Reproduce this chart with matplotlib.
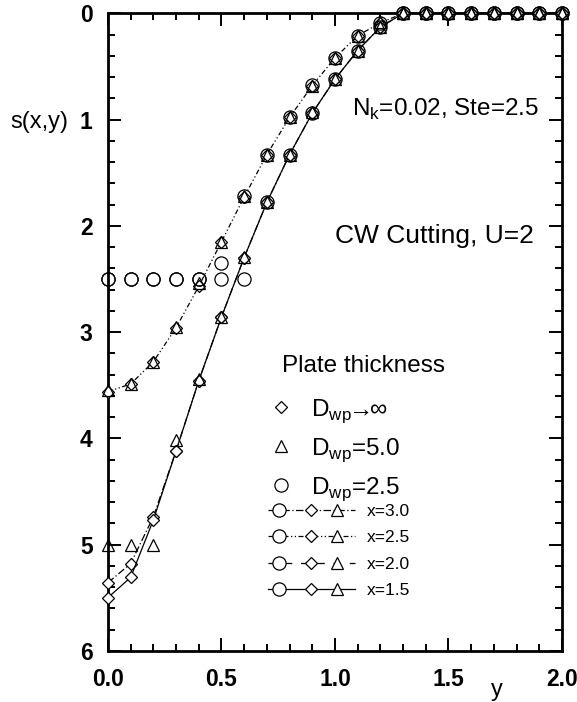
import matplotlib
matplotlib.use("Agg")
import matplotlib.pyplot as plt
from matplotlib.lines import Line2D
from matplotlib.legend_handler import HandlerBase
from matplotlib.ticker import MultipleLocator, FormatStrFormatter

plt.rcParams['font.family'] = ['Liberation Sans', 'DejaVu Sans']
plt.rcParams['mathtext.fontset'] = 'custom'
plt.rcParams['mathtext.rm'] = 'Liberation Sans'

# Data: cut depth s along y at several x, for three plate thicknesses
y_pos = [0.0, 0.1, 0.2, 0.3, 0.4, 0.5, 0.6, 0.7, 0.8, 0.9, 1.0,
         1.1, 1.2, 1.3, 1.4, 1.5, 1.6, 1.7, 1.8, 1.9, 2.0]

# D_wp -> infinity (diamonds, with lines)
s_inf_x15 = [5.50, 5.31, 4.77, 4.12, 3.46, 2.86, 2.30, 1.78, 1.33, 0.94, 0.62,
             0.35, 0.13, 0.0, 0.0, 0.0, 0.0, 0.0, 0.0, 0.0, 0.0]
s_inf_x30 = [5.36, 5.18, 4.74, 4.12, 3.46, 2.86, 2.30, 1.78, 1.33, 0.94, 0.62,
             0.35, 0.13, 0.0, 0.0, 0.0, 0.0, 0.0, 0.0, 0.0, 0.0]
s_inf_x25 = [3.56, 3.49, 3.28, 2.96, 2.57, 2.15, 1.73, 1.33, 0.98, 0.68, 0.42,
             0.21, 0.09, 0.0, 0.0, 0.0, 0.0, 0.0, 0.0, 0.0, 0.0]

# D_wp = 5.0 (triangles)
s_5_x15 = [5.0, 5.0, 5.0, 4.02, 3.44, 2.86, 2.29, 1.78, 1.33, 0.93, 0.62,
           0.35, 0.13, 0.0, 0.0, 0.0, 0.0, 0.0, 0.0, 0.0, 0.0]
s_5_x25 = [3.55, 3.49, 3.28, 2.95, 2.54, 2.15, 1.72, 1.33, 0.98, 0.68, 0.42,
           0.21, 0.08, 0.0, 0.0, 0.0, 0.0, 0.0, 0.0, 0.0, 0.0]

# D_wp = 2.5 (circles)
s_25_x15 = [2.5, 2.5, 2.5, 2.5, 2.5, 2.5, 2.5, 1.78, 1.33, 0.94, 0.62,
            0.35, 0.13, 0.0, 0.0, 0.0, 0.0, 0.0, 0.0, 0.0, 0.0]
s_25_x25 = [2.5, 2.5, 2.5, 2.5, 2.5, 2.35, 1.72, 1.33, 0.98, 0.67, 0.42,
            0.21, 0.09, 0.0, 0.0, 0.0, 0.0, 0.0, 0.0, 0.0, 0.0]

x_labels = ['x=3.0', 'x=2.5', 'x=2.0', 'x=1.5']
x_styles = [(0, (6, 2, 1, 2)), (0, (4, 2, 1, 2, 1, 2)), (0, (6, 7)), '-']

LW = 0.9
diamond = dict(marker='D', ms=6, mfc='white', mec='black', mew=LW)
triangle = dict(marker='^', ms=8, mfc='none', mec='black', mew=LW, ls='none')
circle = dict(marker='o', ms=9.5, mfc='none', mec='black', mew=LW, ls='none')


class TripleMarkerHandler(HandlerBase):
    # legend handle: line with circle, diamond and triangle on it
    def create_artists(self, legend, orig_handle, xdescent, ydescent,
                       width, height, fontsize, trans):
        yc = height / 2 - ydescent
        x0 = -xdescent
        line = Line2D([x0, x0 + width], [yc, yc])
        line.update_from(orig_handle)
        line.set_marker('None')
        line.set_transform(trans)
        arts = [line]
        for frac, style in [(0.13, circle), (0.5, diamond), (0.8, triangle)]:
            st = dict(style)
            st['mfc'] = 'white'
            st['ls'] = 'none'
            m = Line2D([x0 + frac * width], [yc], **st)
            m.set_transform(trans)
            arts.append(m)
        return arts


fig = plt.figure(figsize=(5.77, 7.02), dpi=100)
ax = fig.add_axes([0.187, 0.073, 0.787, 0.908])

ax.plot(y_pos, s_inf_x30, color='black', lw=LW, ls=x_styles[0], clip_on=False, zorder=3, **diamond)
ax.plot(y_pos, s_inf_x25, color='black', lw=LW, ls=x_styles[1], clip_on=False, zorder=3, **diamond)
ax.plot(y_pos, s_inf_x15, color='black', lw=LW, ls=x_styles[3], clip_on=False, zorder=3, **diamond)
ax.plot(y_pos, s_5_x15, clip_on=False, zorder=4, **triangle)
ax.plot(y_pos, s_5_x25, clip_on=False, zorder=4, **triangle)
ax.plot(y_pos, s_25_x15, clip_on=False, zorder=5, **circle)
ax.plot(y_pos, s_25_x25, clip_on=False, zorder=5, **circle)

ax.set_xlim(0, 2)
ax.set_ylim(6, 0)
ax.xaxis.set_major_locator(MultipleLocator(0.5))
ax.xaxis.set_minor_locator(MultipleLocator(0.1))
ax.yaxis.set_major_locator(MultipleLocator(1))
ax.yaxis.set_minor_locator(MultipleLocator(0.2))
ax.xaxis.set_major_formatter(FormatStrFormatter('%.1f'))
ax.yaxis.set_major_formatter(FormatStrFormatter('%d'))
ax.tick_params(which='both', direction='in', top=True, right=True, width=1.4)
ax.tick_params(which='major', length=9.5)
ax.tick_params(which='minor', length=5)
ax.tick_params(axis='x', which='major', pad=12.5)
ax.tick_params(axis='y', which='major', pad=11)
for lab in ax.get_xticklabels() + ax.get_yticklabels():
    lab.set_fontsize(16.5)
    lab.set_fontweight('bold')
for sp in ax.spines.values():
    sp.set_linewidth(2)

ax.set_ylabel('s(x,y)', fontsize=17, rotation=0, ha='center', va='center')
ax.yaxis.set_label_coords(-0.152, 0.830)
ax.set_xlabel('y', fontsize=17, va='center')
ax.xaxis.set_label_coords(0.857, -0.061)

ax.text(0.537, 0.839, r'N$_\mathregular{k}$=0.02, Ste=2.5', transform=ax.transAxes,
        fontsize=17.5, ha='left', va='baseline')
ax.text(0.720, 0.650, 'CW Cutting, U=2', transform=ax.transAxes,
        fontsize=19, ha='center', va='center')
ax.text(0.562, 0.446, 'Plate thickness', transform=ax.transAxes,
        fontsize=17.5, ha='center', va='center')

# legend for plate thickness markers
h_d = [Line2D([], [], ls='none', **diamond),
       Line2D([], [], **triangle),
       Line2D([], [], **circle)]
l_d = [r'D$_\mathregular{wp}\!\!\rightarrow\!\!\infty$', r'D$_\mathregular{wp}$=5.0', r'D$_\mathregular{wp}$=2.5']
leg1 = ax.legend(h_d, l_d, loc='upper left', bbox_to_anchor=(0.354, 0.398),
                 frameon=False, fontsize=17.5, handlelength=1.0, handletextpad=0.75,
                 borderpad=0, borderaxespad=0, labelspacing=0.47)
ax.add_artist(leg1)

# legend for x positions (line styles)
h_x = [Line2D([], [], color='black', lw=LW, ls=s) for s in x_styles]
leg2 = ax.legend(h_x, x_labels, loc='upper left', bbox_to_anchor=(0.352, 0.231),
                 frameon=False, fontsize=12.5, handlelength=5.0, handletextpad=0.7,
                 borderpad=0, borderaxespad=0, labelspacing=0.66,
                 handler_map={Line2D: TripleMarkerHandler()})

fig.savefig('out.png', dpi=100)
